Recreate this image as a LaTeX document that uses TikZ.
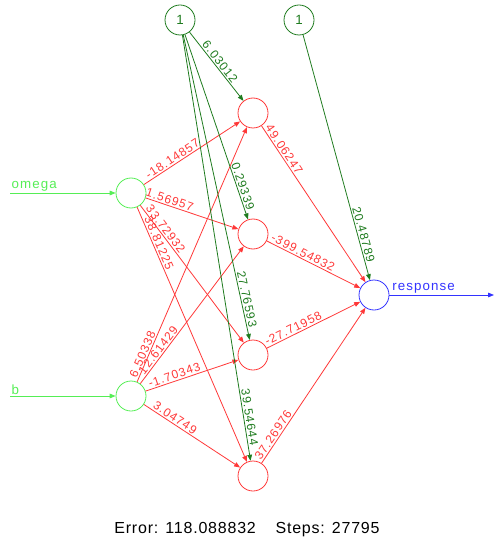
\documentclass[tikz,border=0pt]{standalone}
\usepackage{fontspec}
\setmainfont{Liberation Sans}
\newfontfamily\netfont[LetterSpace=8]{Liberation Sans}
\newfontfamily\footfont[LetterSpace=5]{Liberation Sans}
\usetikzlibrary{arrows.meta,positioning}
\definecolor{netinput}{HTML}{55EE55}
\definecolor{netbias}{HTML}{1E7B1E}
\definecolor{nethidden}{HTML}{FF3838}
\definecolor{netoutput}{HTML}{3333FF}
\tikzset{
  neuron/.style={circle,draw,minimum size=22.5pt,inner sep=0pt,line width=0.6pt},
  syn/.style={-{Triangle[length=4.5pt,width=3.5pt]},line width=0.6pt},
  wlabel/.style={sloped,above,inner sep=1pt,font=\netfont\fontsize{9}{9}\selectfont},
  namelabel/.style={inner sep=1pt,font=\netfont\fontsize{10}{10}\selectfont},
}

\begin{document}
\begin{tikzpicture}[x=0.75pt,y=-0.75pt]
  \useasboundingbox (0,0) rectangle (494,545);
  % input layer
  \node[neuron,netinput] (omega) at (131,193) {};
  \node[neuron,netinput] (b) at (131,396) {};
  \coordinate (omegain) at (10,193);
  \coordinate (bin) at (10,396);
  % bias nodes
  \node[neuron,netbias,font=\netfont\fontsize{10}{10}\selectfont] (bias1) at (180,20) {1};
  \node[neuron,netbias,font=\netfont\fontsize{10}{10}\selectfont] (bias2) at (299,20) {1};
  % hidden layer
  \node[neuron,nethidden] (h1) at (253,113) {};
  \node[neuron,nethidden] (h2) at (253,234) {};
  \node[neuron,nethidden] (h3) at (253,355) {};
  \node[neuron,nethidden] (h4) at (253,476) {};
  % output layer
  \node[neuron,netoutput] (out) at (374,295) {};
  \coordinate (outend) at (494,295);

  \draw[syn,netinput] (omegain) -- (omega.west) node[pos=0,anchor=south west,namelabel] {omega};
  \draw[syn,netinput] (bin) -- (b.west) node[pos=0,anchor=south west,namelabel] {b};
  \draw[syn,netoutput] (out.east) -- (outend) node[pos=0,anchor=south west,namelabel,xshift=1pt] {response};

  % weights from the inputs
  \draw[syn,nethidden] (omega) -- (h1) node[wlabel,pos=0.33] {-18.14857};
  \draw[syn,nethidden] (omega) -- (h2) node[wlabel,pos=0.24] {1.56957};
  \draw[syn,nethidden] (omega) -- (h3) node[wlabel,pos=0.20] {33.72932};
  \draw[syn,nethidden] (omega) -- (h4) node[wlabel,pos=0.15] {38.81225};
  \draw[syn,nethidden] (b) -- (h1) node[wlabel,pos=0.10] {6.50338};
  \draw[syn,nethidden] (b) -- (h2) node[wlabel,pos=0.22] {12.61429};
  \draw[syn,nethidden] (b) -- (h3) node[wlabel,pos=0.33] {-1.70343};
  \draw[syn,nethidden] (b) -- (h4) node[wlabel,pos=0.29] {3.04749};

  % weights into the output
  \draw[syn,nethidden] (h1) -- (out) node[wlabel,pos=0.17] {49.06247};
  \draw[syn,nethidden] (h2) -- (out) node[wlabel,pos=0.36] {-399.54832};
  \draw[syn,nethidden] (h3) -- (out) node[wlabel,pos=0.31] {-27.71958};
  \draw[syn,nethidden] (h4) -- (out) node[wlabel,pos=0.16] {37.26976};

  % bias weights
  \draw[syn,netbias] (bias1) -- (h1) node[wlabel,pos=0.48] {6.03012};
  \draw[syn,netbias] (bias1) -- (h2) node[wlabel,pos=0.83] {0.29339};
  \draw[syn,netbias] (bias1) -- (h3) node[wlabel,pos=0.87] {27.76593};
  \draw[syn,netbias] (bias1) -- (h4) node[wlabel,pos=0.90] {39.54644};
  \draw[syn,netbias] (bias2) -- (out) node[wlabel,pos=0.82] {20.48789};

  \node[font=\footfont\fontsize{12}{12}\selectfont] (errinfo) at (247,530) {Error: 118.088832\hspace{0.9em} Steps: 27795};
\end{tikzpicture}
\end{document}
